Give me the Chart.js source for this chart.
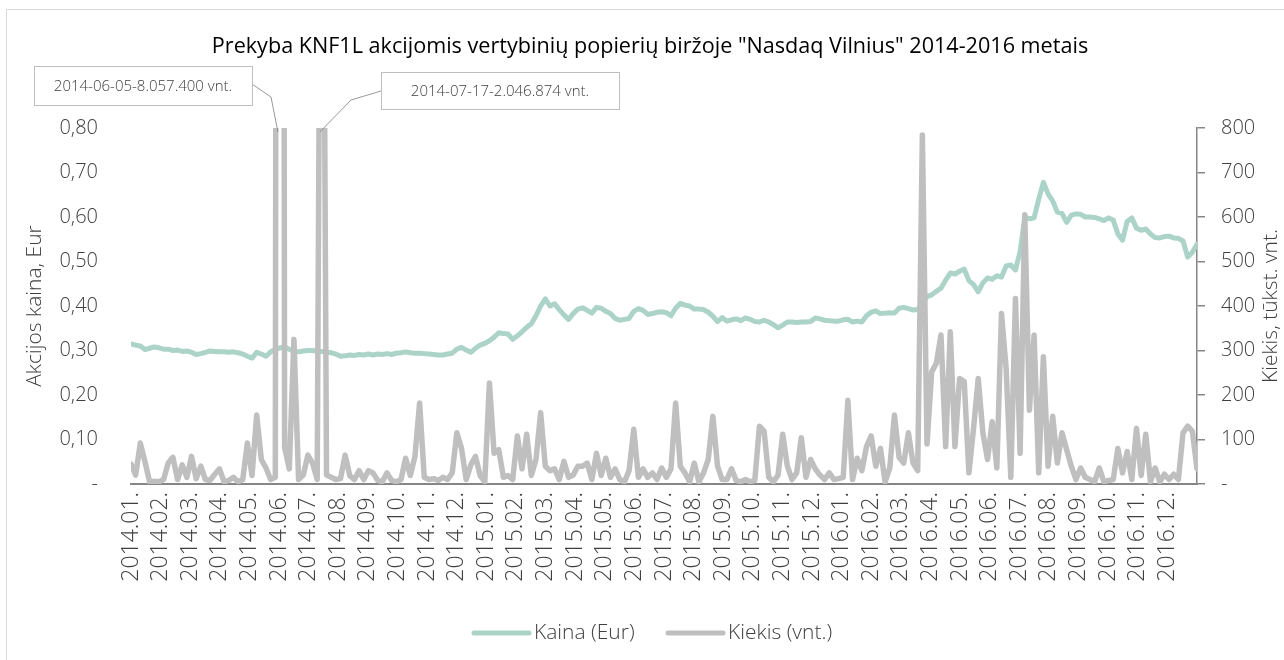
<!DOCTYPE html>
<html>
<head>
<meta charset="utf-8">
<script src="https://cdn.jsdelivr.net/npm/chart.js@4.4.0/dist/chart.umd.min.js"></script>
<style>
  html, body { margin: 0; padding: 0; background: #fff; }
  #wrap { position: relative; width: 1284px; height: 660px; overflow: hidden; }
  #frame { position: absolute; left: 6px; top: 9px; width: 1400px; height: 800px; border: 1px solid #d9d9d9; }
  #c { position: absolute; left: 0; top: 0; }
</style>
</head>
<body>
<div id="wrap">
  <div id="frame"></div>
  <canvas id="c" width="1284" height="660"></canvas>
</div>
<script>
  // Month tick labels (one per month, 2014-01 .. 2016-12).
  const monthLabels = [
    '2014.01.', '2014.02.', '2014.03.', '2014.04.', '2014.05.', '2014.06.',
    '2014.07.', '2014.08.', '2014.09.', '2014.10.', '2014.11.', '2014.12.',
    '2015.01.', '2015.02.', '2015.03.', '2015.04.', '2015.05.', '2015.06.',
    '2015.07.', '2015.08.', '2015.09.', '2015.10.', '2015.11.', '2015.12.',
    '2016.01.', '2016.02.', '2016.03.', '2016.04.', '2016.05.', '2016.06.',
    '2016.07.', '2016.08.', '2016.09.', '2016.10.', '2016.11.', '2016.12.'
  ];

  // Share price, Eur (sampled roughly every 3-4 trading days).
  const price = [
    0.315, 0.312, 0.310, 0.302, 0.305, 0.308, 0.306, 0.303, 0.303, 0.300,
    0.301, 0.298, 0.299, 0.296, 0.291, 0.293, 0.296, 0.299, 0.298, 0.297,
    0.297, 0.296, 0.297, 0.295, 0.292, 0.287, 0.283, 0.296, 0.292, 0.287,
    0.297, 0.302, 0.306, 0.308, 0.303, 0.298, 0.297, 0.299, 0.300, 0.300,
    0.298, 0.298, 0.296, 0.295, 0.292, 0.287, 0.288, 0.290, 0.289, 0.291,
    0.290, 0.292, 0.290, 0.292, 0.291, 0.293, 0.291, 0.294, 0.295, 0.297,
    0.295, 0.294, 0.294, 0.293, 0.292, 0.291, 0.290, 0.290, 0.292, 0.294,
    0.303, 0.307, 0.301, 0.296, 0.305, 0.312, 0.316, 0.322, 0.330, 0.340,
    0.338, 0.337, 0.325, 0.333, 0.342, 0.352, 0.360, 0.378, 0.400, 0.416,
    0.400, 0.405, 0.392, 0.380, 0.370, 0.383, 0.393, 0.396, 0.390, 0.384,
    0.397, 0.395, 0.388, 0.383, 0.372, 0.368, 0.370, 0.372, 0.388, 0.394,
    0.390, 0.381, 0.383, 0.386, 0.387, 0.385, 0.378, 0.395, 0.406, 0.402,
    0.400, 0.393, 0.393, 0.392, 0.386, 0.377, 0.365, 0.374, 0.366, 0.369,
    0.371, 0.367, 0.373, 0.370, 0.365, 0.364, 0.368, 0.364, 0.358, 0.351,
    0.357, 0.364, 0.364, 0.363, 0.364, 0.364, 0.365, 0.373, 0.371, 0.368,
    0.367, 0.366, 0.366, 0.369, 0.370, 0.364, 0.366, 0.364, 0.378, 0.386,
    0.389, 0.383, 0.384, 0.385, 0.384, 0.395, 0.397, 0.394, 0.391, 0.392,
    0.405, 0.421, 0.425, 0.433, 0.440, 0.458, 0.474, 0.472, 0.478, 0.483,
    0.457, 0.448, 0.432, 0.452, 0.463, 0.460, 0.468, 0.465, 0.490, 0.492,
    0.481, 0.522, 0.600, 0.596, 0.598, 0.640, 0.678, 0.652, 0.636, 0.611,
    0.608, 0.588, 0.604, 0.607, 0.606, 0.600, 0.600, 0.599, 0.596, 0.592,
    0.598, 0.593, 0.562, 0.548, 0.590, 0.598, 0.575, 0.570, 0.573, 0.562,
    0.554, 0.553, 0.556, 0.557, 0.553, 0.552, 0.546, 0.510, 0.521, 0.539
  ];

  // Traded volume, thousand shares (same sampling).
  const volume = [
    45, 20, 92, 50, 5, 6, 5, 10, 47, 60,
    10, 43, 15, 62, 12, 40, 10, 8, 22, 34,
    5, 8, 15, 5, 10, 92, 19, 155, 55, 36,
    10, 15, 8057, 82, 34, 325, 10, 20, 65, 47,
    10, 2047, 20, 15, 10, 12, 65, 19, 10, 30,
    10, 30, 25, 8, 5, 25, 8, 5, 10, 58,
    19, 62, 182, 15, 10, 12, 8, 15, 10, 25,
    115, 80, 10, 43, 62, 19, 5, 227, 69, 77,
    15, 19, 10, 108, 34, 112, 19, 55, 160, 40,
    30, 34, 10, 51, 15, 20, 40, 40, 47, 10,
    69, 19, 58, 15, 34, 10, 5, 30, 123, 15,
    34, 15, 25, 10, 36, 15, 34, 182, 40, 25,
    5, 47, 5, 25, 55, 152, 40, 10, 10, 34,
    8, 5, 10, 5, 8, 130, 119, 15, 5, 20,
    112, 40, 10, 25, 104, 15, 55, 34, 20, 10,
    25, 10, 12, 15, 188, 10, 58, 30, 84, 108,
    40, 80, 5, 36, 155, 60, 47, 115, 47, 30,
    784, 90, 252, 271, 335, 84, 342, 84, 237, 230,
    25, 125, 237, 115, 55, 140, 36, 383, 259, 15,
    417, 69, 605, 166, 335, 25, 286, 40, 152, 47,
    115, 77, 40, 10, 36, 15, 10, 5, 36, 5,
    8, 10, 80, 25, 73, 10, 125, 19, 112, 5,
    36, 5, 22, 10, 22, 10, 115, 130, 119, 34
  ];

  // Callouts for the two clipped volume spikes.
  const noteTexts = ['2014-06-05-8.057.400 vnt.', '2014-07-17-2.046.874 vnt.'];
  const noteValues = [8057, 2047];

  const title = 'Prekyba KNF1L akcijomis vertybinių popierių biržoje "Nasdaq Vilnius" 2014-2016 metais';
  const seriesNames = ['Kaina (Eur)', 'Kiekis (vnt.)'];
  const axisTitles = ['Akcijos kaina, Eur', 'Kiekis, tūkst. vnt.'];

  const FONT = "'Open Sans', 'Noto Sans', sans-serif";
  const colors = {
    price: '#abd3c7',
    volume: '#bfbfbf',
    axis: '#868686',
    text: '#404040',
    noteBorder: '#bfbfbf'
  };

  const lastIndex = price.length - 1;

  // Draws title, axis titles, callouts and legend.
  const overlay = {
    id: 'overlay',
    afterDraw(chart) {
      const ctx = chart.ctx;
      const area = chart.chartArea;
      const xs = chart.scales.x;
      ctx.save();

      ctx.fillStyle = '#000';
      ctx.font = '21.6px ' + FONT;
      ctx.textAlign = 'center';
      ctx.textBaseline = 'middle';
      ctx.fillText(title, 650, 47);

      // Axis titles (both read bottom to top).
      ctx.fillStyle = colors.text;
      ctx.font = '300 21px ' + FONT;
      [[35, axisTitles[0]], [1271, axisTitles[1]]].forEach(([x, t]) => {
        ctx.save();
        ctx.translate(x, (area.top + area.bottom) / 2);
        ctx.rotate(-Math.PI / 2);
        ctx.fillText(t, 0, 0);
        ctx.restore();
      });

      // Callout boxes.
      const boxes = [
        { x: 34, y: 66, w: 218, h: 39, from: [252, 84], elbow: [271, 97] },
        { x: 381, y: 72, w: 238, h: 37, from: [381, 91], elbow: [351, 100] }
      ];
      ctx.font = '300 15px ' + FONT;
      boxes.forEach((b, k) => {
        const sx = xs.getPixelForValue(volume.indexOf(noteValues[k]));
        ctx.strokeStyle = '#7f7f7f';
        ctx.lineWidth = 0.8;
        ctx.beginPath();
        ctx.moveTo(b.from[0], b.from[1]);
        ctx.lineTo(b.elbow[0], b.elbow[1]);
        ctx.lineTo(sx - 2, area.top + 4);
        ctx.stroke();
        ctx.fillStyle = '#fff';
        ctx.fillRect(b.x, b.y, b.w, b.h);
        ctx.strokeStyle = colors.noteBorder;
        ctx.lineWidth = 1;
        ctx.strokeRect(b.x + 0.5, b.y + 0.5, b.w, b.h);
        ctx.fillStyle = colors.text;
        ctx.fillText(noteTexts[k], b.x + b.w / 2, b.y + b.h / 2 + 1);
      });

      // Legend.
      const legend = [
        { x1: 474, x2: 529, color: colors.price, text: seriesNames[0] },
        { x1: 668, x2: 723, color: colors.volume, text: seriesNames[1] }
      ];
      ctx.lineCap = 'round';
      ctx.lineWidth = 5;
      ctx.textAlign = 'left';
      ctx.font = '300 21px ' + FONT;
      legend.forEach((l) => {
        ctx.strokeStyle = l.color;
        ctx.beginPath();
        ctx.moveTo(l.x1, 633);
        ctx.lineTo(l.x2, 633);
        ctx.stroke();
        ctx.fillStyle = colors.text;
        ctx.fillText(l.text, l.x2 + 5, 633);
      });

      ctx.restore();
    }
  };

  const tickFont = { family: FONT, size: 20, weight: '300' };

  new Chart(document.getElementById('c'), {
    type: 'line',
    data: {
      labels: price.map((_, i) => i),
      datasets: [
        {
          label: seriesNames[1],
          data: volume,
          yAxisID: 'y1',
          borderColor: colors.volume,
          borderWidth: 5.5,
          pointRadius: 0,
          tension: 0,
          borderJoinStyle: 'round',
          borderCapStyle: 'round'
        },
        {
          label: seriesNames[0],
          data: price,
          yAxisID: 'y',
          borderColor: colors.price,
          borderWidth: 5,
          pointRadius: 0,
          tension: 0,
          borderJoinStyle: 'round',
          borderCapStyle: 'round'
        }
      ]
    },
    options: {
      responsive: false,
      animation: false,
      events: [],
      layout: { padding: { left: 0, right: 0, top: 128, bottom: 66 } },
      plugins: {
        legend: { display: false },
        title: { display: false },
        tooltip: { enabled: false }
      },
      scales: {
        x: {
          type: 'linear',
          min: 0,
          max: lastIndex,
          afterBuildTicks: function (scale) {
            scale.ticks = monthLabels.map((_, j) => ({ value: j * lastIndex / 36 }));
          },
          afterFit: function (scale) {
            scale.height = 110;
          },
          grid: { display: false, drawTicks: false },
          border: { display: true, color: colors.axis, width: 2 },
          ticks: {
            autoSkip: false,
            maxRotation: 90,
            minRotation: 90,
            padding: 8,
            color: colors.text,
            font: { family: FONT, size: 23, weight: '300' },
            callback: function (value, index) {
              return monthLabels[index];
            }
          }
        },
        y: {
          position: 'left',
          min: 0,
          max: 0.8,
          afterFit: function (scale) {
            scale.width = 131;
          },
          grid: { display: false, drawTicks: false },
          border: { display: false },
          ticks: {
            stepSize: 0.1,
            padding: 33,
            color: colors.text,
            font: tickFont,
            callback: function (value) {
              return value === 0 ? '-' : value.toFixed(2).replace('.', ',');
            }
          }
        },
        y1: {
          position: 'right',
          min: 0,
          max: 800,
          afterFit: function (scale) {
            scale.width = 87;
          },
          grid: {
            display: true,
            drawOnChartArea: false,
            drawTicks: true,
            tickLength: 8,
            color: colors.axis,
            lineWidth: 1.5
          },
          border: { display: true, color: colors.axis, width: 1.5 },
          ticks: {
            stepSize: 100,
            padding: 16,
            color: colors.text,
            font: tickFont,
            callback: function (value) {
              return value === 0 ? '-' : String(value);
            }
          }
        }
      }
    },
    plugins: [overlay]
  });
</script>
</body>
</html>
